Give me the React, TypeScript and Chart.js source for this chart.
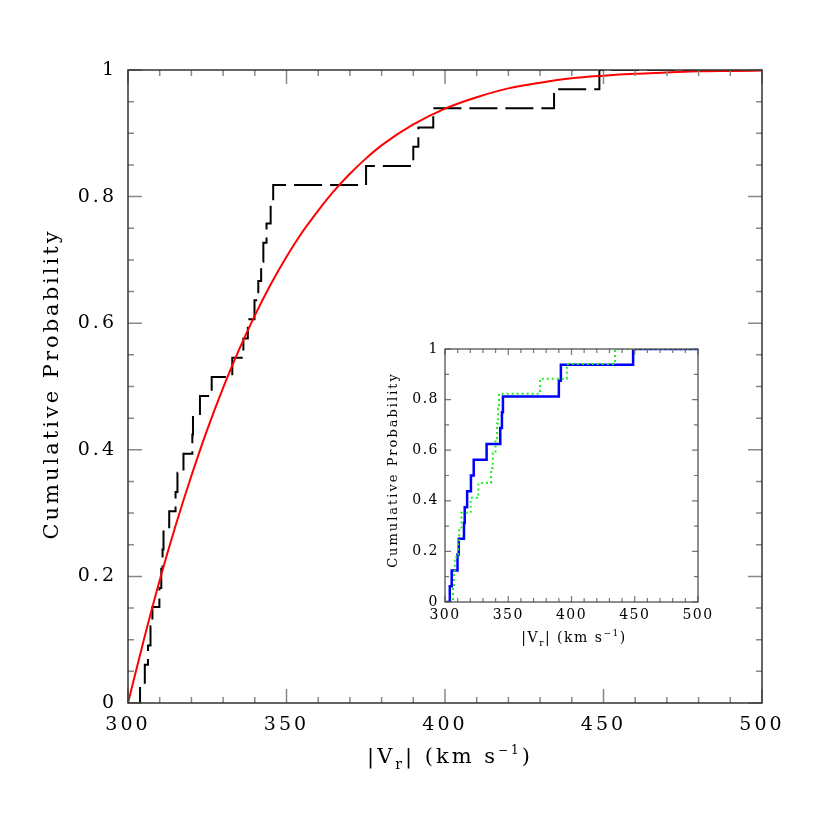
import React, { useEffect, useRef } from "react";
import { Chart, registerables } from "chart.js";

Chart.register(...registerables);

// |Vr| values (km/s) of the two sub-samples shown in the inset
const vrBlue = [303.8, 305.3, 309.9, 310.9, 315.0, 315.6, 317.5, 320.5, 322.7, 332.9, 343.7, 345.0, 345.8, 390.0, 391.6, 448.7];
const vrGreen = [306.3, 307.1, 307.7, 310.5, 311.2, 313.0, 320.3, 326.4, 336.4, 337.8, 339.9, 341.1, 342.0, 342.7, 375.1, 396.3, 434.4];

// model cumulative distribution (red curve)
const modelVr = [300, 305, 310, 315, 320, 325, 330, 335, 340, 345, 350, 355, 360, 365, 370, 375, 380, 390, 400, 410, 420, 430, 440, 450, 460, 470, 480, 490, 500];
const modelCdf = [0, 0.1, 0.194, 0.28, 0.359, 0.432, 0.498, 0.558, 0.612, 0.661, 0.705, 0.744, 0.778, 0.809, 0.836, 0.86, 0.881, 0.914, 0.939, 0.957, 0.971, 0.98, 0.987, 0.991, 0.994, 0.996, 0.998, 0.9986, 0.9991];

const X_MIN = 300;
const X_MAX = 500;
const xTickStep = 50;
const yTickStep = 0.2;

const FAMILY = "'DejaVu Serif', serif";

function ecdf(vals: number[]) {
  const s = [...vals].sort((a, b) => a - b);
  const n = s.length;
  const pts: { x: number; y: number }[] = [{ x: X_MIN, y: 0 }];
  s.forEach((v, i) => pts.push({ x: v, y: (i + 1) / n }));
  pts.push({ x: X_MAX, y: 1 });
  return pts;
}

const fmtY = (v: any) => String(+Number(v).toFixed(1));

type Part = { t: string; size: number; dy: number };

function drawRich(ctx: CanvasRenderingContext2D, parts: Part[], cx: number, baseY: number, spacing: number) {
  ctx.save();
  (ctx as any).letterSpacing = spacing + "px";
  ctx.textBaseline = "alphabetic";
  ctx.textAlign = "left";
  ctx.fillStyle = "#000";
  let total = 0;
  const widths = parts.map((p) => {
    ctx.font = `${p.size}px ${FAMILY}`;
    const w = ctx.measureText(p.t).width;
    total += w;
    return w;
  });
  let x = cx - total / 2;
  parts.forEach((p, i) => {
    ctx.font = `${p.size}px ${FAMILY}`;
    ctx.fillText(p.t, x, baseY + p.dy);
    x += widths[i];
  });
  ctx.restore();
}

function makePlugin(cfg: {
  spacing: number;
  xMinor: number;
  yMinor: number;
  majorLen: number;
  minorLen: number;
  frameColor: string;
  tickColor: string;
  lw: number;
  yTitle: { text: string; size: number; x: number; y: number; spacing: number };
  xTitle: { parts: Part[]; x: number; y: number; spacing: number };
}) {
  const setSpacing = (chart: any) => {
    chart.ctx.letterSpacing = cfg.spacing + "px";
  };
  return {
    id: "frameTicks",
    afterInit: setSpacing,
    beforeUpdate: setSpacing,
    beforeLayout: setSpacing,
    beforeDraw: setSpacing,
    afterDatasetsDraw(chart: any) {
      const ctx: CanvasRenderingContext2D = chart.ctx;
      const a = chart.chartArea;
      const xs = chart.scales.x;
      const ys = chart.scales.y;
      ctx.save();
      ctx.lineWidth = cfg.lw;
      ctx.strokeStyle = cfg.tickColor;
      ctx.beginPath();
      const nx = Math.round((xs.max - xs.min) / cfg.xMinor);
      for (let i = 0; i <= nx; i++) {
        const v = xs.min + i * cfg.xMinor;
        const px = xs.getPixelForValue(v);
        const major = Math.abs(v / xTickStep - Math.round(v / xTickStep)) < 1e-6;
        const len = major ? cfg.majorLen : cfg.minorLen;
        ctx.moveTo(px, a.bottom);
        ctx.lineTo(px, a.bottom - len);
        ctx.moveTo(px, a.top);
        ctx.lineTo(px, a.top + len);
      }
      const ny = Math.round((ys.max - ys.min) / cfg.yMinor);
      for (let i = 0; i <= ny; i++) {
        const v = ys.min + i * cfg.yMinor;
        const py = ys.getPixelForValue(v);
        const major = Math.abs(v / yTickStep - Math.round(v / yTickStep)) < 1e-6;
        const len = major ? cfg.majorLen : cfg.minorLen;
        ctx.moveTo(a.left, py);
        ctx.lineTo(a.left + len, py);
        ctx.moveTo(a.right, py);
        ctx.lineTo(a.right - len, py);
      }
      ctx.stroke();
      ctx.strokeStyle = cfg.frameColor;
      ctx.strokeRect(a.left, a.top, a.right - a.left, a.bottom - a.top);
      ctx.restore();
    },
    afterDraw(chart: any) {
      const ctx: CanvasRenderingContext2D = chart.ctx;
      const t = cfg.yTitle;
      ctx.save();
      (ctx as any).letterSpacing = t.spacing + "px";
      ctx.translate(t.x, t.y);
      ctx.rotate(-Math.PI / 2);
      ctx.font = `${t.size}px ${FAMILY}`;
      ctx.fillStyle = "#000";
      ctx.textAlign = "center";
      ctx.textBaseline = "alphabetic";
      ctx.fillText(t.text, 0, 0);
      ctx.restore();
      drawRich(ctx, cfg.xTitle.parts, cfg.xTitle.x, cfg.xTitle.y, cfg.xTitle.spacing);
    },
  };
}

export default function App() {
  const mainRef = useRef<HTMLCanvasElement>(null);
  const insetRef = useRef<HTMLCanvasElement>(null);

  useEffect(() => {
    const mainPlugin = makePlugin({
      spacing: 3,
      xMinor: 10,
      yMinor: 0.05,
      majorLen: 14,
      minorLen: 6,
      frameColor: "#333",
      tickColor: "#888",
      lw: 1.5,
      yTitle: { text: "Cumulative Probability", size: 21, x: 58, y: 384, spacing: 3 },
      xTitle: {
        parts: [
          { t: "|V", size: 21, dy: 0 },
          { t: "r", size: 14, dy: 6 },
          { t: "| (km s", size: 21, dy: 0 },
          { t: "\u22121", size: 12, dy: -9 },
          { t: ")", size: 21, dy: 0 },
        ],
        x: 450,
        y: 763,
        spacing: 3,
      },
    });

    const main = new Chart(mainRef.current!, {
      type: "line",
      data: {
        datasets: [
          {
            label: "model",
            data: modelVr.map((x, i) => ({ x, y: modelCdf[i] })),
            borderColor: "#ff0000",
            borderWidth: 2,
            pointRadius: 0,
            cubicInterpolationMode: "monotone",
            fill: false,
          },
          {
            label: "all",
            data: ecdf([...vrBlue, ...vrGreen]),
            borderColor: "#000",
            borderWidth: 2,
            borderDash: [28, 8],
            stepped: "before",
            pointRadius: 0,
            fill: false,
          },
        ],
      } as any,
      options: {
        responsive: false,
        animation: false,
        events: [],
        layout: { padding: { left: 0, top: 70, right: 68, bottom: 0 } },
        plugins: { legend: { display: false }, tooltip: { enabled: false } },
        scales: {
          x: {
            type: "linear",
            min: X_MIN,
            max: X_MAX,
            ticks: { stepSize: xTickStep, color: "#000", font: { family: FAMILY, size: 19 }, padding: 11, maxRotation: 0, autoSkip: false },
            grid: { display: false, drawTicks: false },
            border: { display: false },
            afterFit: (s: any) => {
              s.height = 127;
            },
          },
          y: {
            type: "linear",
            min: 0,
            max: 1,
            ticks: { stepSize: yTickStep, color: "#000", font: { family: FAMILY, size: 19 }, padding: 11, callback: fmtY },
            grid: { display: false, drawTicks: false },
            border: { display: false },
            afterFit: (s: any) => {
              s.width = 128;
            },
          },
        },
      } as any,
      plugins: [mainPlugin as any],
    });

    const insetPlugin = makePlugin({
      spacing: 1.5,
      xMinor: 10,
      yMinor: 0.1,
      majorLen: 6,
      minorLen: 4,
      frameColor: "#444",
      tickColor: "#777",
      lw: 1.2,
      yTitle: { text: "Cumulative Probability", size: 13, x: 27, y: 140, spacing: 2 },
      xTitle: {
        parts: [
          { t: "|V", size: 14, dy: 0 },
          { t: "r", size: 9, dy: 4 },
          { t: "| (km s", size: 14, dy: 0 },
          { t: "\u22121", size: 9, dy: -6 },
          { t: ")", size: 14, dy: 0 },
        ],
        x: 204,
        y: 312,
        spacing: 1.5,
      },
    });

    const inset = new Chart(insetRef.current!, {
      type: "line",
      data: {
        datasets: [
          {
            label: "green",
            data: ecdf(vrGreen),
            borderColor: "#22ee22",
            borderWidth: 2,
            borderDash: [2, 3],
            stepped: "before",
            pointRadius: 0,
            fill: false,
          },
          {
            label: "blue",
            data: ecdf(vrBlue),
            borderColor: "#0000ff",
            borderWidth: 2.5,
            stepped: "before",
            pointRadius: 0,
            fill: false,
          },
        ],
      } as any,
      options: {
        responsive: false,
        animation: false,
        events: [],
        layout: { padding: { left: 0, top: 19, right: 42, bottom: 0 } },
        plugins: { legend: { display: false }, tooltip: { enabled: false } },
        scales: {
          x: {
            type: "linear",
            min: X_MIN,
            max: X_MAX,
            ticks: { stepSize: xTickStep, color: "#000", font: { family: FAMILY, size: 14 }, padding: 5, maxRotation: 0, autoSkip: false },
            grid: { display: false, drawTicks: false },
            border: { display: false },
            afterFit: (s: any) => {
              s.height = 58;
            },
          },
          y: {
            type: "linear",
            min: 0,
            max: 1,
            ticks: { stepSize: yTickStep, color: "#000", font: { family: FAMILY, size: 14 }, padding: 6, callback: fmtY },
            grid: { display: false, drawTicks: false },
            border: { display: false },
            afterFit: (s: any) => {
              s.width = 75;
            },
          },
        },
      } as any,
      plugins: [insetPlugin as any],
    });

    return () => {
      main.destroy();
      inset.destroy();
    };
  }, []);

  return (
    <div style={{ position: "absolute", left: 0, top: 0, width: 830, height: 830, background: "#fff" }}>
      <canvas ref={mainRef} width={830} height={830} style={{ position: "absolute", left: 0, top: 0, width: 830, height: 830 }} />
      <canvas ref={insetRef} width={370} height={330} style={{ position: "absolute", left: 370, top: 330, width: 370, height: 330 }} />
    </div>
  );
}
